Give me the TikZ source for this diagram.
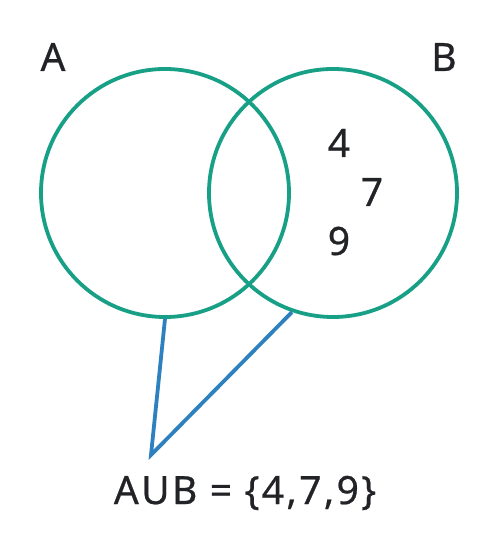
\documentclass[tikz,border=0pt]{standalone}
\usepackage{fontspec}
\setmainfont{Noto Sans}[FakeBold=0.6, LetterSpace=6]
\usepackage{tikz}
\usetikzlibrary{positioning, calc}

\definecolor{setgreen}{HTML}{17A085}
\definecolor{pointerblue}{HTML}{2E81BF}
\definecolor{inkdark}{HTML}{222326}

\begin{document}
\begin{tikzpicture}[
    x=1pt, y=1pt,
    font=\fontsize{39}{44}\selectfont,
    setcircle/.style={circle, draw=setgreen, line width=3.8pt, minimum size=248pt, inner sep=0pt},
    setlabel/.style={text=inkdark, inner sep=0pt},
    pointer/.style={draw=pointerblue, line width=3.8pt, line join=miter}
  ]
    \useasboundingbox (0,0) rectangle (498,557);
    % the two sets
    \node[setcircle] (circA) at (165,364) {};
    \node[setcircle] (circB) at (333,364) {};
    \node[setlabel] (labA) at (53,500) {A};
    \node[setlabel] (labB) at (444,500) {B};
    % elements of B
    \node[setlabel] (elFour) at (339,414) {4};
    \node[setlabel] (elSeven) at (372,365) {7};
    \node[setlabel] (elNine) at (339,316) {9};
    % union label with its pointer
    \coordinate (tip) at (151,102);
    \node[setlabel] (union) at (245,64) {AUB = \{4,7,9\}};
    \draw[pointer] (circA.south) -- (tip) -- (circB.251);
  \end{tikzpicture}
\end{document}
